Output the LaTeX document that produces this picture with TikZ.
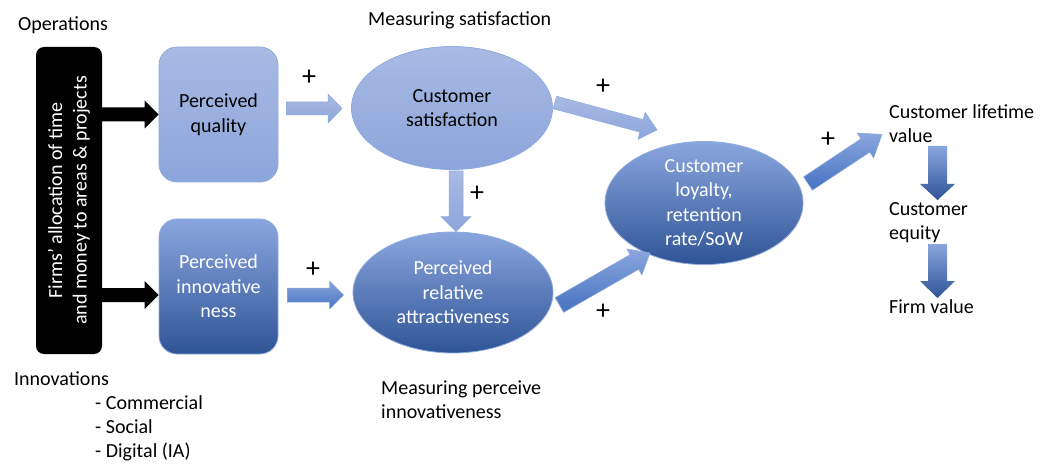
\documentclass[tikz,border=0pt]{standalone}
\usepackage{fontspec}
\setmainfont{Carlito}
\usetikzlibrary{calc,shapes.geometric}
\definecolor{lighttop}{HTML}{A9BAE3}
\definecolor{lightbot}{HTML}{8CA5DB}
\definecolor{darktop}{HTML}{8AA6DE}
\definecolor{darkmid}{HTML}{4A78C9}
\definecolor{darkbot}{HTML}{2F5496}
\definecolor{edgeblue}{HTML}{8FAADC}
\newcommand{\barrow}[6]{%
  \coordinate (ba-s) at #2;
  \coordinate (ba-e) at #3;
  \coordinate (ba-h) at ($(ba-e)!#6!(ba-s)$);
  \path[#1] ($(ba-s)!#4!90:(ba-e)$) -- ($(ba-h)!#4!90:(ba-e)$) -- ($(ba-h)!#5!90:(ba-e)$) -- (ba-e)
    -- ($(ba-h)!#5!-90:(ba-e)$) -- ($(ba-h)!#4!-90:(ba-e)$) -- ($(ba-s)!#4!-90:(ba-e)$) -- cycle;}
\begin{document}
\begin{tikzpicture}[x=1pt,y=-1pt,
  every node/.style={font=\fontsize{20}{24.4}\selectfont, inner sep=0pt},
  blkbox/.style={rectangle, rounded corners=8pt, fill=black, text=white, align=center,
    minimum width=307pt, minimum height=66pt},
  lightbox/.style={rectangle, rounded corners=18pt, draw=edgeblue, line width=0.8pt,
    top color=lighttop, bottom color=lightbot, align=center, minimum width=119pt, minimum height=135pt},
  darkbox/.style={rectangle, rounded corners=18pt, draw=edgeblue, line width=0.8pt,
    top color=darktop, middle color=darkmid, bottom color=darkbot, text=white, align=center,
    minimum width=119pt, minimum height=135pt},
  lightell/.style={ellipse, draw=edgeblue, line width=0.8pt, top color=lighttop, bottom color=lightbot, align=center},
  darkell/.style={ellipse, draw=edgeblue, line width=0.8pt, top color=darktop, middle color=darkmid,
    bottom color=darkbot, text=white, align=center},
  lbl/.style={align=left},
  plus/.style={font=\fontsize{28}{28}\selectfont},
  blackarrow/.style={fill=black},
  lightarrow/.style={top color=lighttop, bottom color=lightbot, draw=edgeblue, line width=0.5pt},
  darkarrow/.style={top color=darktop, bottom color=darkmid!85!darkbot, draw=edgeblue, line width=0.5pt},
  downarrow/.style={top color=darktop, bottom color=darkbot},
]
\useasboundingbox (0,0) rectangle (1053,476);

% main nodes
\node[blkbox, rotate=90] (blk) at (69,200.5) {Firms’ allocation of time\\and money to areas \& projects};
\node[lightbox] (pq) at (218.5,114.5) {Perceived\\quality};
\node[darkbox] (pi) at (218.5,286.5) {Perceived\\innovative\\ness};
\node[lightell, minimum width=201pt, minimum height=123pt] (cs) at (452,108) {Customer\\satisfaction};
\node[darkell, minimum width=200pt, minimum height=121pt] (pra) at (453,292.5) {Perceived\\relative\\attractiveness};
\node[darkell, minimum width=198pt, minimum height=119pt] (cl) at (704,203) {Customer\\loyalty,\\retention\\rate/SoW};

% right column
\node[lbl, anchor=north west] (clv) at (889,104) {Customer lifetime\\value};
\node[lbl, anchor=north west] (ce) at (889,202) {Customer\\equity};
\node[lbl, anchor=base west] (fv) at (889,313) {Firm value};

% labels
\node[anchor=base west] (ops) at (18,31) {Operations};
\node[anchor=base west] (msat) at (368,26) {Measuring satisfaction};
\node[anchor=base west] (inn) at (14,385) {Innovations};
\node[lbl, anchor=north west] (innl) at (95,395) {- Commercial\\- Social\\- Digital (IA)};
\node[lbl, anchor=north west] (minn) at (381,380.5) {Measuring perceive\\innovativeness};

% plus signs
\node[plus] (p1) at (309,78) {+};
\node[plus] (p2) at (603,87) {+};
\node[plus] (p3) at (477,194) {+};
\node[plus] (p4) at (313,270) {+};
\node[plus] (p5) at (603,312) {+};
\node[plus] (p6) at (828,140) {+};

% black arrows
\barrow{blackarrow}{(blk.south |- pq.west)}{(pq.west)}{7pt}{14pt}{14pt}
\barrow{blackarrow}{($(blk.south |- pi.west)+(0,8.5)$)}{($(pi.west)+(0,8.5)$)}{7pt}{14pt}{14pt}

% blue block arrows
\barrow{lightarrow}{($(pq.east)+(8,-6)$)}{($(cs.west)+(-9,0.5)$)}{6.5pt}{14.5pt}{14pt}
\barrow{darkarrow}{($(pi.east)+(9,8.5)$)}{($(pra.west)+(-9,2.5)$)}{7pt}{14pt}{14pt}
\barrow{lightarrow}{($(cs.south)+(4,1)$)}{($(pra.north)+(3,0)$)}{7pt}{15pt}{15pt}
\barrow{lightarrow}{($(cs.east)+(2,-5.5)$)}{($(cl.center)+(-47,-73)$)}{6.5pt}{14pt}{16pt}
\barrow{darkarrow}{($(pra.east)+(6,12.5)$)}{($(cl.center)+(-54,50)$)}{8.5pt}{15pt}{18pt}
\barrow{darkarrow}{($(cl.center)+(104,-19.5)$)}{($(clv.west)+(-7,11)$)}{8pt}{15pt}{20pt}
\barrow{downarrow}{(937.5,146)}{(937.5,200)}{9.5pt}{17.5pt}{16pt}
\barrow{downarrow}{(937.5,244)}{(937.5,298)}{9.5pt}{17.5pt}{17pt}
\end{tikzpicture}
\end{document}
